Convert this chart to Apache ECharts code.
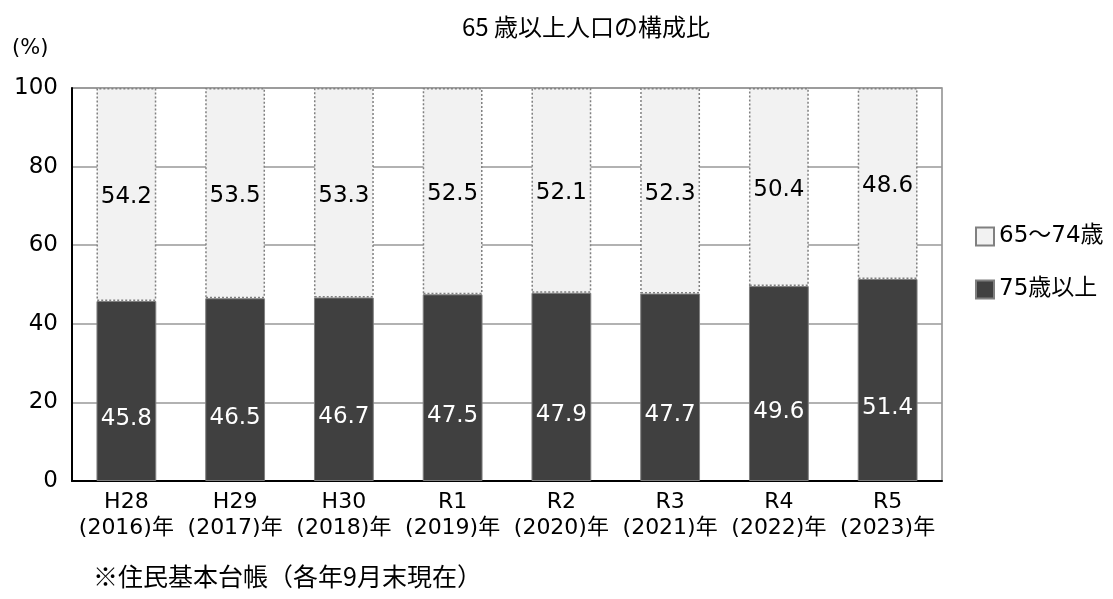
<!DOCTYPE html>
<html><head><meta charset="utf-8">
<script src="https://cdn.jsdelivr.net/npm/echarts@6/dist/echarts.min.js"></script>
<style>html,body{margin:0;padding:0;background:#fff}#c{width:1113px;height:599px}</style>
</head><body><div id="c"></div>
<script>
const categories = ['H28\n(2016)年','H29\n(2017)年','H30\n(2018)年','R1\n(2019)年','R2\n(2020)年','R3\n(2021)年','R4\n(2022)年','R5\n(2023)年'];
const over75 = [45.8, 46.5, 46.7, 47.5, 47.9, 47.7, 49.6, 51.4];
const age65to74 = [54.2, 53.5, 53.3, 52.5, 52.1, 52.3, 50.4, 48.6];
const yTicks = [0, 20, 40, 60, 80, 100];
const FONT = '"Noto Sans CJK JP","Noto Sans",sans-serif';
const NUMFONT = '"DejaVu Sans","Noto Sans CJK JP",sans-serif';
const chart = echarts.init(document.getElementById('c'));
chart.setOption({
  animation: false,
  textStyle: {fontFamily: FONT},
  title: {text: '65 歳以上人口の構成比', left: 581, textAlign: 'center', top: 10,
    textStyle: {fontSize: 24, fontWeight: 'normal', color: '#000', fontFamily: FONT}},
  grid: {left: 72, right: 171, top: 88, bottom: 118, show: true, borderColor: '#8c8c8c', borderWidth: 1.5},
  legend: {orient: 'vertical', left: 970, top: 220, itemWidth: 18, itemHeight: 18, itemGap: 30, icon: 'rect',
    data: ['65～74歳', '75歳以上'],
    textStyle: {fontSize: 23, color: '#000', fontFamily: NUMFONT}},
  xAxis: {type: 'category', data: categories,
    axisLine: {lineStyle: {color: '#000', width: 2}},
    axisTick: {inside: true, length: 6, lineStyle: {color: '#000'}},
    axisLabel: {interval: 0, fontSize: 22, color: '#000', lineHeight: 26, margin: 8, fontFamily: NUMFONT}},
  yAxis: {type: 'value', min: yTicks[0], max: yTicks[yTicks.length-1], interval: 20,
    axisLine: {show: true, lineStyle: {color: '#000', width: 2}},
    axisTick: {show: false},
    splitLine: {lineStyle: {color: '#999', width: 1.5}},
    axisLabel: {fontSize: 23, color: '#000', margin: 14, fontFamily: NUMFONT}},
  graphic: [
    {type: 'text', left: 12, top: 38, style: {text: '(%)', fontSize: 21, fill: '#000', fontFamily: NUMFONT}},
    {type: 'text', left: 93, top: 564, style: {text: '※住民基本台帳（各年9月末現在）', fontSize: 25, fill: '#000', fontFamily: FONT}}
  ],
  series: [
    {name: '75歳以上', type: 'bar', stack: 's', data: over75, barWidth: '55%',
      itemStyle: {color: '#404040', borderColor: '#7f7f7f', borderWidth: 1},
      label: {show: true, position: 'inside', offset: [0, 28], color: '#fff', fontSize: 23, fontFamily: NUMFONT}},
    {name: '65～74歳', type: 'bar', stack: 's', data: age65to74, barWidth: '55%',
      itemStyle: {color: '#f2f2f2', borderColor: '#808080', borderWidth: 1.5, borderType: [2, 2]},
      label: {show: true, position: 'inside', offset: [0, 3], color: '#000', fontSize: 23, fontFamily: NUMFONT}}
  ]
});
</script></body></html>
